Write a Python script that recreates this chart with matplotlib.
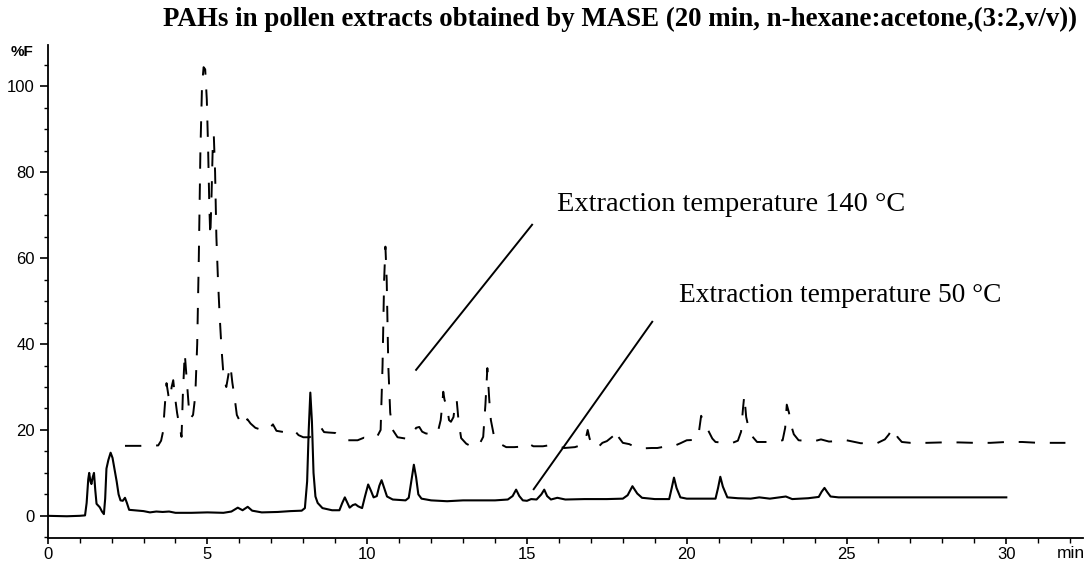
import matplotlib
matplotlib.use("Agg")
import matplotlib.pyplot as plt
from matplotlib.ticker import MultipleLocator

# chromatogram: time (min), fluorescence (%F)
t_50 = [0, 0.6, 1.0, 1.17, 1.22, 1.27, 1.30, 1.34, 1.37, 1.41, 1.45, 1.49, 1.53, 1.63, 1.70, 1.76,
        1.80, 1.84, 1.90, 1.97, 2.03, 2.10, 2.16, 2.22, 2.28, 2.35, 2.42, 2.48, 2.55, 2.7, 3.0, 3.2,
        3.4, 3.6, 3.8, 4.0, 4.5, 5.0, 5.5, 5.75, 5.95, 6.1, 6.26, 6.4, 6.7, 7.2, 7.6, 7.95, 8.05,
        8.12, 8.17, 8.22, 8.27, 8.32, 8.38, 8.45, 8.6, 8.9, 9.13, 9.22, 9.3, 9.38, 9.45, 9.55, 9.63,
        9.72, 9.84, 9.93, 10.03, 10.12, 10.2, 10.3, 10.38, 10.45, 10.53, 10.62, 10.8, 11.2, 11.3,
        11.38, 11.46, 11.53, 11.6, 11.7, 12.0, 12.5, 13.0, 13.5, 14.0, 14.4, 14.55, 14.66, 14.76,
        14.87, 15.0, 15.13, 15.3, 15.45, 15.54, 15.63, 15.75, 15.95, 16.2, 16.8, 17.5, 18.0, 18.15,
        18.3, 18.45, 18.6, 19.0, 19.45, 19.53, 19.6, 19.68, 19.8, 20.0, 20.9, 20.98, 21.05, 21.13,
        21.27, 21.6, 22.0, 22.27, 22.6, 23.1, 23.3, 23.8, 24.13, 24.22, 24.31, 24.4, 24.5, 24.75, 30.0]
f_50 = [0.0, -0.1, 0.0, 0.1, 3.0, 8.5, 10.0, 8.0, 7.4, 9.0, 10.0, 6.0, 2.8, 2.0, 1.0, 0.4,
        4.0, 11.0, 13.0, 14.7, 13.5, 10.5, 8.0, 5.0, 3.6, 3.5, 4.2, 3.0, 1.4, 1.3, 1.1, 0.8,
        1.0, 0.9, 1.0, 0.7, 0.7, 0.8, 0.7, 1.0, 1.9, 1.3, 2.1, 1.2, 0.8, 0.9, 1.1, 1.2, 1.8,
        8.0, 20.0, 28.7, 22.0, 10.0, 4.5, 3.0, 1.8, 1.3, 1.3, 3.0, 4.3, 3.0, 1.9, 2.5, 2.7,
        2.2, 1.8, 4.5, 7.3, 5.8, 4.3, 4.6, 7.0, 8.3, 6.5, 4.5, 3.8, 3.6, 4.2,
        8.0, 11.9, 9.0, 5.0, 4.0, 3.6, 3.4, 3.6, 3.6, 3.6, 3.8, 4.6, 6.1, 4.6,
        3.6, 3.5, 3.9, 3.8, 5.0, 6.1, 4.6, 3.8, 4.2, 3.8, 3.9, 3.9, 4.0, 4.8,
        6.9, 5.2, 4.2, 3.9, 3.9, 6.5, 8.9, 6.5, 4.3, 4.0, 4.0, 6.5, 9.1, 6.8,
        4.3, 4.1, 4.0, 4.3, 4.0, 4.5, 3.9, 4.1, 4.4, 5.6, 6.5, 5.5, 4.5, 4.3, 4.3]

t_140 = [2.42, 2.93, 3.46, 3.55, 3.61, 3.66, 3.72, 3.78, 3.82, 3.88, 3.93, 3.98, 4.05, 4.12, 4.19,
         4.23, 4.29, 4.36, 4.42, 4.47, 4.55, 4.62, 4.68, 4.73, 4.78, 4.83, 4.88, 4.93, 4.98, 5.02,
         5.06, 5.09, 5.13, 5.17, 5.2, 5.24, 5.28, 5.33, 5.38, 5.44, 5.51, 5.59, 5.66, 5.72, 5.78,
         5.86, 5.92, 6.05, 6.15, 6.25, 6.35, 6.5, 6.7, 6.9, 7.05, 7.16, 7.4, 7.6, 7.72, 7.85, 8.0,
         8.2, 8.4, 8.55, 8.65, 8.8, 9.0, 9.2, 9.4, 9.7, 9.9, 10.1, 10.3, 10.42, 10.48, 10.53, 10.57,
         10.61, 10.66, 10.72, 10.8, 10.95, 11.2, 11.4, 11.53, 11.63, 11.72, 11.83, 12.0, 12.2, 12.3,
         12.35, 12.38, 12.42, 12.5, 12.56, 12.62, 12.7, 12.76, 12.8, 12.86, 12.94, 13.1, 13.3, 13.5,
         13.63, 13.7, 13.76, 13.82, 13.87, 13.98, 14.15, 14.35, 14.6, 14.8, 15.0, 15.2, 15.5, 15.75,
         15.95, 16.17, 16.5, 16.75, 16.84, 16.9, 16.96, 17.05, 17.2, 17.36, 17.5, 17.7, 17.78, 17.86,
         18.0, 18.2, 18.4, 18.6, 18.9, 19.08, 19.3, 19.55, 19.8, 20.0, 20.3, 20.38, 20.45, 20.55,
         20.65, 20.8, 20.9, 21.2, 21.4, 21.6, 21.7, 21.76, 21.8, 21.86, 21.95, 22.05, 22.2, 22.5,
         22.73, 23.0, 23.08, 23.13, 23.2, 23.27, 23.35, 23.5, 23.8, 24.0, 24.2, 24.45, 24.75, 25.0,
         25.45, 25.7, 25.95, 26.2, 26.33, 26.42, 26.5, 26.6, 26.73, 27.0, 27.5, 28.0, 28.5, 29.0,
         29.5, 30.0, 30.5, 31.0, 31.85]
f_140 = [16.3, 16.3, 16.4, 17.5, 19.6, 25.0, 30.9, 28.0, 27.0, 30.0, 31.6, 28.0, 24.0, 21.0, 18.4,
         28.0, 37.9, 31.0, 25.0, 22.7, 23.5, 28.0, 40.0, 60.0, 85.0, 100.0, 104.5, 104.0, 97.0, 86.0,
         72.0, 65.0, 75.0, 87.0, 88.5, 80.0, 65.0, 55.0, 47.0, 39.0, 32.0, 30.0, 33.0, 35.0, 31.0,
         27.0, 23.5, 21.5, 21.0, 22.5, 21.5, 20.5, 20.0, 20.0, 21.3, 19.8, 19.5, 19.5, 19.9, 18.8, 18.3,
         18.3, 19.6, 20.6, 19.5, 19.4, 19.3, 18.0, 17.6, 17.6, 18.2, 18.0, 18.3, 20.0, 35.0, 55.0, 62.7,
         55.0, 35.0, 24.0, 20.0, 18.3, 18.0, 18.6, 20.5, 20.7, 19.6, 19.2, 19.0, 19.2, 22.3,
         26.0, 28.9, 27.0, 25.4, 22.3, 21.9, 23.0, 26.5, 27.0, 22.0, 18.1, 16.8, 16.0, 16.5,
         18.4, 26.0, 34.4, 27.0, 22.3, 18.1, 16.8, 16.0, 16.0, 16.1, 17.0, 16.2, 16.2, 16.5,
         16.2, 15.8, 16.0, 16.6, 18.0, 20.0, 18.0, 16.4, 15.8, 17.0, 17.4, 18.6, 20.0, 18.4,
         17.0, 16.7, 16.0, 15.7, 15.8, 15.8, 16.1, 16.1, 16.9, 17.6, 17.7, 19.5, 23.3, 21.5,
         20.2, 18.0, 17.2, 17.0, 16.9, 17.5, 19.6, 25.0, 28.0, 23.0, 20.0, 18.5, 17.2, 17.2,
         17.2, 17.6, 20.5, 25.9, 24.0, 21.0, 19.0, 17.6, 17.4, 17.4, 17.8, 17.3, 17.4, 17.6,
         16.9, 17.0, 16.9, 17.8, 19.0, 20.4, 19.8, 18.3, 17.2, 17.0, 17.0, 17.1, 17.1, 17.0,
         17.0, 17.2, 17.2, 17.0, 17.0]

title = "PAHs in pollen extracts obtained by MASE (20 min, n-hexane:acetone,(3:2,v/v))"
label_140 = "Extraction temperature 140 \u00b0C"
label_50 = "Extraction temperature 50 \u00b0C"

fig = plt.figure(figsize=(10.88, 5.62), dpi=100)
ax = fig.add_axes([0.0438, 0.0432, 0.9516, 0.877])

ax.plot(t_50, f_50, color="black", lw=1.5)
ax.plot(t_140, f_140, color="black", lw=1.4, linestyle=(0, (8.4, 7.6)))

# pointer lines from the labels to the traces
ax.plot([11.53, 15.16], [34.0, 67.8], color="black", lw=1.4)
ax.plot([15.21, 18.92], [6.2, 45.2], color="black", lw=1.4)
ax.text(15.94, 72.4, label_140, fontsize=20.4, family="Liberation Serif", va="center", ha="left")
ax.text(19.77, 51.4, label_50, fontsize=19.7, family="Liberation Serif", va="center", ha="left")

ax.set_xlim(0, 32.4)
ax.set_ylim(-5.1, 109.7)
ax.spines["top"].set_visible(False)
ax.spines["right"].set_visible(False)
ax.spines["left"].set_linewidth(1.3)
ax.spines["bottom"].set_linewidth(1.3)

ax.xaxis.set_major_locator(MultipleLocator(5))
ax.xaxis.set_minor_locator(MultipleLocator(1))
ax.yaxis.set_major_locator(MultipleLocator(20))
ax.yaxis.set_minor_locator(MultipleLocator(5))
ax.tick_params(axis="x", which="major", length=4.5, width=1.2, pad=2.5)
ax.tick_params(axis="x", which="minor", length=3.3, width=1.0)
ax.tick_params(axis="y", which="major", length=5.8, width=1.2, pad=3.5)
ax.tick_params(axis="y", which="minor", length=3.0, width=1.0)
for lab in ax.get_xticklabels() + ax.get_yticklabels():
    lab.set_fontfamily("Liberation Sans")
    lab.set_fontsize(12)

fig.text(22 / 1088, 1 - 52 / 562, "%F", fontsize=11, fontweight="bold", family="Liberation Sans",
         ha="center", va="center")
fig.text(1071 / 1088, 1 - 554 / 562, "min", fontsize=12.5, family="Liberation Sans",
         ha="center", va="center")
fig.text(620 / 1088, 1 - 19 / 562, title, fontsize=19.4, fontweight="bold",
         family="Liberation Serif", ha="center", va="center")

fig.savefig("out.png", dpi=100)
